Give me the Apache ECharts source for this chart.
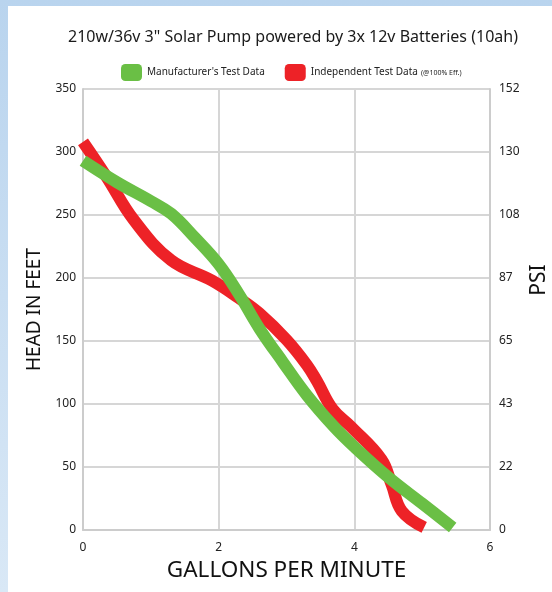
<!DOCTYPE html>
<html>
<head>
<meta charset="utf-8">
<script src="https://cdn.jsdelivr.net/npm/echarts@6/dist/echarts.min.js"></script>
<style>
html,body{margin:0;padding:0;overflow:hidden;}
body{width:552px;height:592px;background:linear-gradient(to bottom,#b9d4ee,#d9e8f6);}
#c{width:552px;height:592px;}
</style>
</head>
<body>
<div id="c"></div>
<script>
var titleText = '210w/36v 3" Solar Pump powered by 3x 12v Batteries (10ah)';
var seriesNames = ["Manufacturer's Test Data", "Independent Test Data"];
var psiName = 'PSI';
var psiLabels = ['0','22','43','65','87','108','130','152'];
var manufacturer = [[0,293],[0.5,276],[1.0,261],[1.3,251],[1.65,232],[2.0,211],[2.3,187],[2.6,160],[2.95,133],[3.3,107],[3.7,82],[4.0,66],[4.5,42],[5.0,21],[5.45,2]];
var independent = [[0,308],[0.35,280],[0.75,246],[1.3,214],[1.9,198],[2.3,184],[2.6,172],[3.0,151],[3.3,131],[3.45,118],[3.68,96],[3.95,82],[4.4,56],[4.55,36],[4.7,15],[5.03,2]];

var chart = echarts.init(document.getElementById('c'), null, {renderer:'canvas', width:552, height:592});
var font = 'Noto Sans';
chart.setOption({
  backgroundColor: 'transparent',
  textStyle: {fontFamily: font},
  graphic: [
    {type:'rect', shape:{x:8,y:6,width:544,height:586}, style:{fill:'#ffffff'}, z:-10},
    {type:'text', x:539, y:280, rotation:Math.PI/2, style:{text:psiName, fontFamily:font, fontSize:21, fill:'#111', textAlign:'center', textVerticalAlign:'middle', align:'center', verticalAlign:'middle'}}
  ],
  title: {text: titleText, left: 288, textAlign: 'center', top: 24, textStyle:{fontFamily:font, fontSize:16, fontWeight:'normal', color:'#1a1a1a'}},
  legend: {
    left: 116, top: 59, itemWidth: 21, itemHeight: 17, itemGap: 20,
    icon: 'roundRect',
    data: seriesNames,
    formatter: function(n){ return n === seriesNames[1] ? '{a|'+n+'} {b|(@100% Eff.)}' : '{a|'+n+'}'; },
    textStyle: {rich: {a:{fontFamily:font, fontSize:10, color:'#222'}, b:{fontFamily:font, fontSize:7, color:'#222'}}}
  },
  grid: {left: 83, right: 62, top: 89, bottom: 62, containLabel:false, outerBoundsMode:'none'},
  xAxis: {
    type:'value', min:0, max:6, interval:2,
    name:'GALLONS PER MINUTE', nameLocation:'middle', nameGap:28,
    nameTextStyle:{fontFamily:font, fontSize:22.5, color:'#111'},
    axisLine:{show:true, lineStyle:{color:'#cccccc', width:2}},
    axisTick:{show:false},
    axisLabel:{fontSize:12, color:'#222', margin:12},
    splitLine:{show:true, lineStyle:{color:'#d6d6d6', width:2}}
  },
  yAxis: [{
    type:'value', min:0, max:350, interval:50,
    name:'HEAD IN FEET', nameLocation:'middle', nameGap:35,
    nameTextStyle:{fontFamily:font, fontSize:19, color:'#111'},
    axisLine:{show:true, lineStyle:{color:'#cccccc', width:2}},
    axisTick:{show:false},
    axisLabel:{fontSize:12, color:'#222', margin:7},
    splitLine:{show:true, lineStyle:{color:'#d6d6d6', width:2}}
  },{
    type:'value', min:0, max:350, interval:50, position:'right',
    axisLine:{show:true, lineStyle:{color:'#cccccc', width:2}},
    axisTick:{show:false},
    axisLabel:{fontSize:12, color:'#222', margin:9, formatter:function(v){return psiLabels[Math.round(v/50)];}},
    splitLine:{show:false}
  }],
  series: [
    {name:seriesNames[0], type:'line', data:manufacturer, smooth:0.4, symbol:'none', itemStyle:{color:'#6abf45'}, lineStyle:{color:'#6abf45', width:12, cap:'butt'}, z:3},
    {name:seriesNames[1], type:'line', data:independent, smooth:0.4, symbol:'none', itemStyle:{color:'#ed2227'}, lineStyle:{color:'#ed2227', width:12, cap:'butt'}, z:2}
  ]
});
</script>
</body>
</html>
